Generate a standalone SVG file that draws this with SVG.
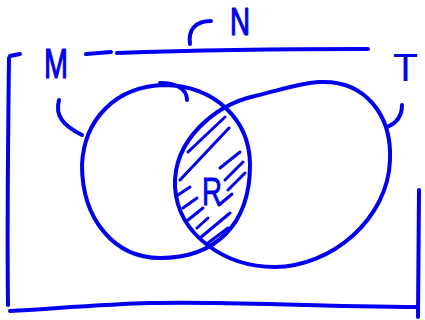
<svg xmlns="http://www.w3.org/2000/svg" width="425" height="320" viewBox="0 0 425 320">
<style>
.ink{fill:none;stroke:#0000ee;stroke-width:4;stroke-linecap:round;stroke-linejoin:round}
.hatch{fill:none;stroke:#0000ee;stroke-width:3;stroke-linecap:round}
.lbl{font-family:"Liberation Sans",Arial,sans-serif;fill:#0000ee;stroke:#0000ee;stroke-width:1.2;stroke-linejoin:round}
</style>
<rect width="425" height="320" fill="#ffffff"/>
<g id="universe-N">
<path class="ink" d="M 10,56 L 20,54"/>
<path class="ink" d="M 86,54 L 111,52 M 117,53 C 200,50 300,49 368,49"/>
<path class="ink" d="M 9,58 C 8,140 7,230 8,305"/>
<path class="ink" d="M 10,311 C 60,308 110,304 150,303 C 220,301 300,306 418,307"/>
<path class="ink" d="M 419,190 C 419,240 418,280 418,317"/>
<text class="lbl" x="230" y="35" font-size="38" textLength="20" lengthAdjust="spacingAndGlyphs">N</text>
</g>
<g id="set-M">
<path class="ink" d="M 165,85 C 115,86 84,120 82,165 C 82,220 115,258 160,258 C 215,258 250,225 250,165 C 250,120 215,86 165,85 Z"/>
<path class="ink" d="M 160,83 C 175,83 187,88 187,100"/>
<text class="lbl" x="44" y="78" font-size="42" textLength="24" lengthAdjust="spacingAndGlyphs">M</text>
</g>
<g id="set-T">
<path class="ink" d="M 320,82 C 365,80 392,115 390,160 C 388,220 330,267 275,267 C 225,267 178,235 175,187 C 173,140 215,105 255,96 C 280,90 300,83 320,82 Z"/>
<text x="393" y="81" font-family="Liberation Sans, Arial, sans-serif" font-size="38" fill="#0000ee" textLength="25" lengthAdjust="spacingAndGlyphs">T</text>
</g>
<g id="region-R">
<path class="hatch" d="M 188,152 L 225,117 M 180,180 L 229,128 M 220,168 L 240,152 M 225,180 L 243,162 M 228,190 L 245,173 M 178,195 L 190,187 M 183,208 L 197,198 M 188,220 L 203,208 M 197,228 L 208,218 M 200,238 L 230,213 M 208,243 L 228,228 M 219,205 L 232,194"/>
<text x="202" y="205" font-family="Liberation Sans, Arial, sans-serif" font-size="38" fill="#0000ee" stroke="#0000ee" stroke-width="0.8" textLength="20" lengthAdjust="spacingAndGlyphs">R</text>
</g>
<g id="connectors">
<path class="ink" d="M 190,44 C 188,30 195,21 211,21"/>
<path class="ink" d="M 59,100 C 55,115 62,125 82,135"/>
<path class="ink" d="M 402,105 C 402,115 397,123 387,127"/>
</g>
</svg>
